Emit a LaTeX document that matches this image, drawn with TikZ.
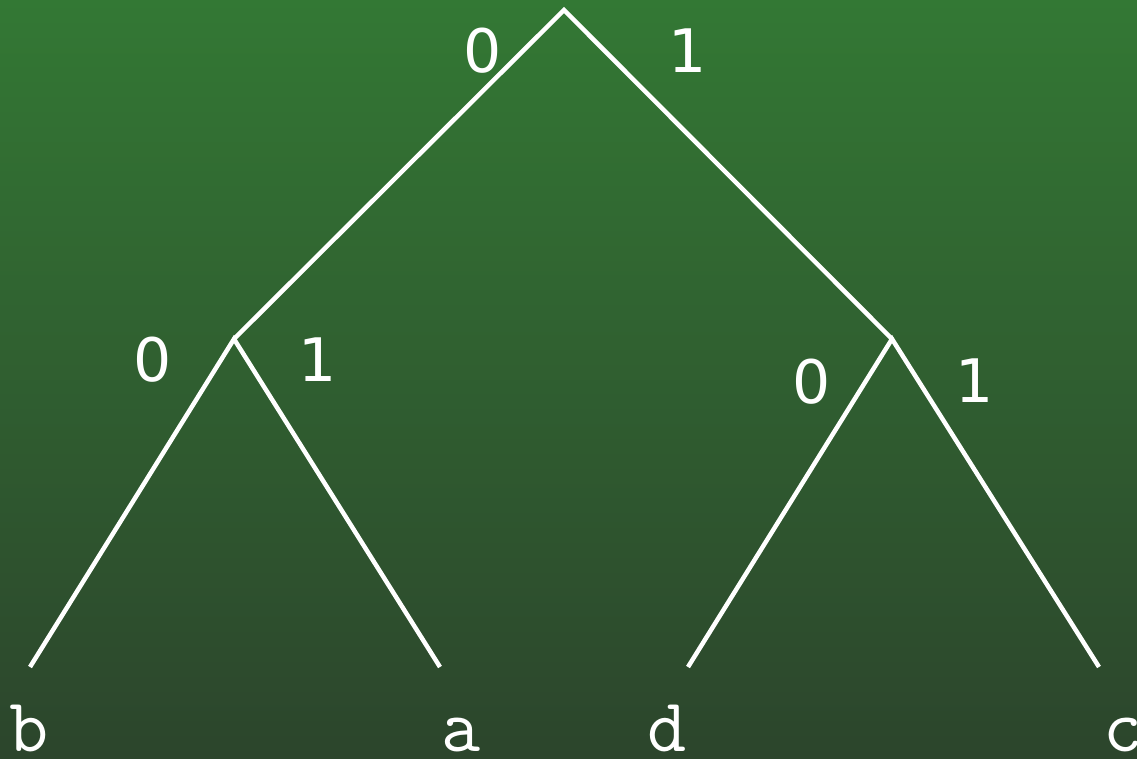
\documentclass[tikz,border=0pt]{standalone}
\usepackage{fontspec}
\setmainfont{DejaVu Sans}
\definecolor{bgtop}{HTML}{337834}
\definecolor{bgbot}{HTML}{2C452C}
\begin{document}
\begin{tikzpicture}[x=1pt,y=-1pt,
  edge/.style={white,line width=4.5pt},
  bit/.style={white,anchor=base,font=\fontsize{60}{60}\selectfont,inner sep=0pt},
  leaf/.style={white,anchor=base,font=\ttfamily\fontsize{76}{76}\selectfont,inner sep=0pt}]
\fill[top color=bgtop,bottom color=bgbot] (0,0) rectangle (1137,758);
\useasboundingbox (0,0) rectangle (1137,758);
\coordinate (r) at (564,10);
\coordinate (l) at (234,339);
\coordinate (rr) at (892,339);
\coordinate (lb) at (30,667);
\coordinate (la) at (440,667);
\coordinate (ld) at (688,667);
\coordinate (lc) at (1099,667);
\draw[edge] (l) -- (r) -- (rr);
\draw[edge] (lb) -- (l) -- (la);
\draw[edge] (ld) -- (rr) -- (lc);
\node[bit] (b0) at (483,72) {0};
\node[bit] (b1) at (688,72) {1};
\node[bit] (b2) at (153,381) {0};
\node[bit] (b3) at (318,381) {1};
\node[bit] (b4) at (812,403) {0};
\node[bit] (b5) at (975,402) {1};
\node[leaf] (tb) at (29,751) {b};
\node[leaf] (ta) at (461,751) {a};
\node[leaf] (td) at (667,751) {d};
\node[leaf] (tc) at (1123,751) {c};
\end{tikzpicture}
\end{document}
